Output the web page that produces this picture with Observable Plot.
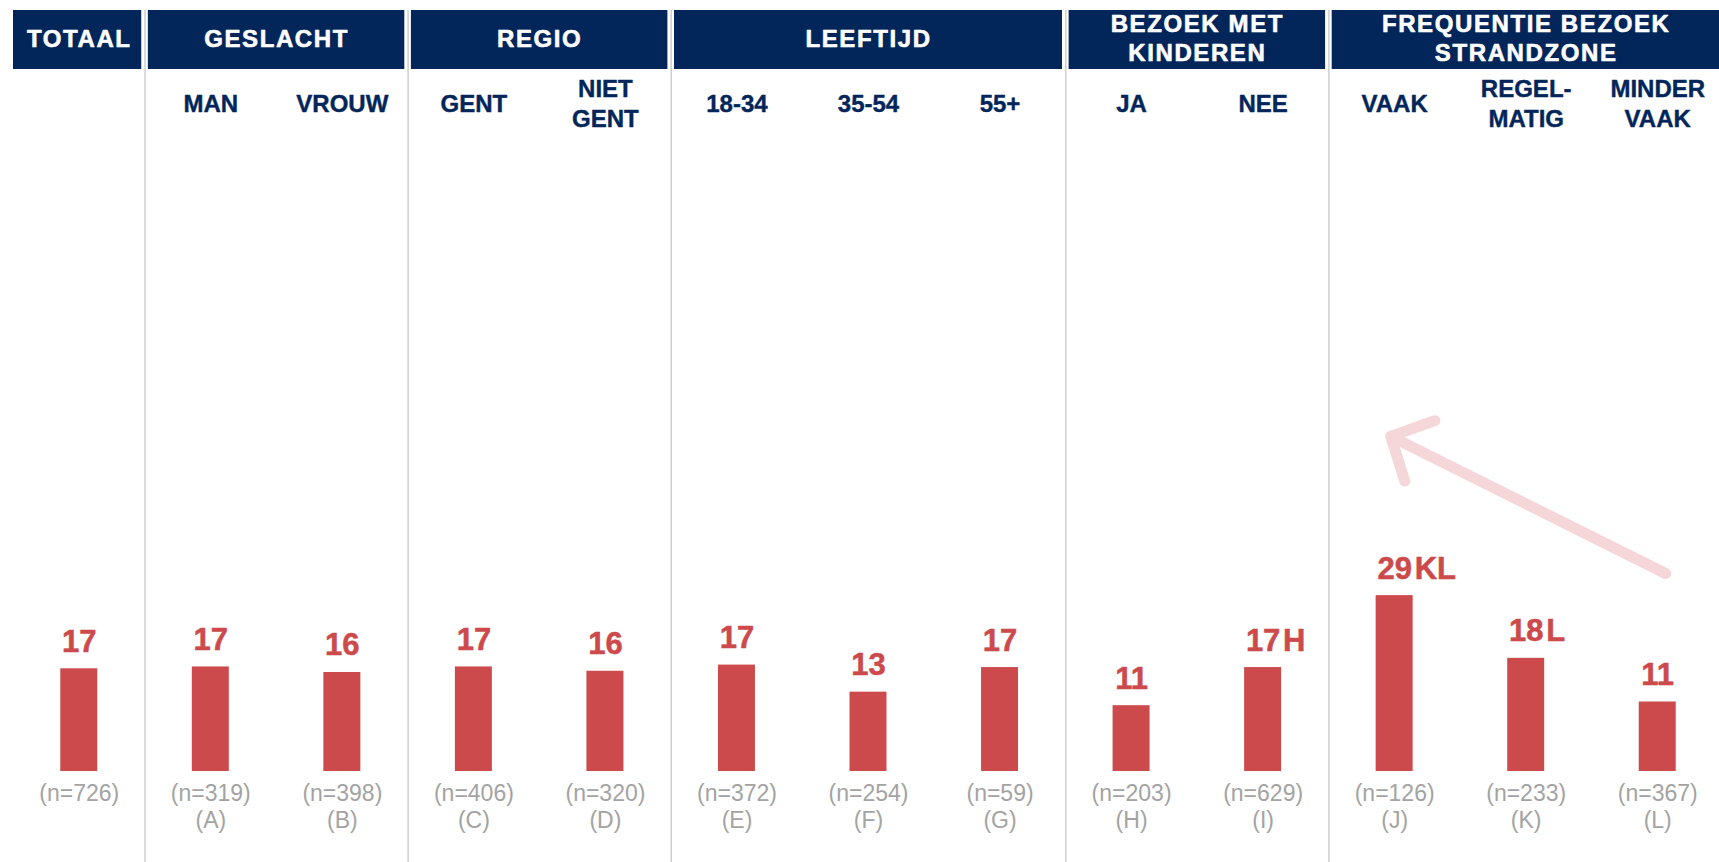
<!DOCTYPE html>
<html>
<head>
<meta charset="utf-8">
<script src="https://cdn.jsdelivr.net/npm/d3@7"></script>
<script src="https://cdn.jsdelivr.net/npm/@observablehq/plot@0.6"></script>
<style>
  html, body { margin: 0; padding: 0; background: #fff; overflow: hidden; }
  #chart svg { display: block; }
</style>
</head>
<body>
<div id="chart"></div>
<script>
// ---- data ----
const groupNames = ["TOTAAL", "GESLACHT", "REGIO", "LEEFTIJD", "BEZOEK MET\nKINDEREN", "FREQUENTIE BEZOEK\nSTRANDZONE"];
const groupFirst = [0, 1, 3, 5, 8, 10];
const groupLast = [0, 2, 4, 7, 9, 12];
const subgroups = ["", "MAN", "VROUW", "GENT", "NIET\nGENT", "18-34", "35-54", "55+", "JA", "NEE", "VAAK", "REGEL-\nMATIG", "MINDER\nVAAK"];
const values = [16.7, 17.0, 16.1, 17.0, 16.3, 17.3, 12.9, 16.9, 10.7, 16.9, 28.6, 18.4, 11.3];
const valueLabels = ["17", "17", "16", "17", "16", "17", "13", "17", "11", "17", "29", "18", "11"];
const sigLetters = ["", "", "", "", "", "", "", "", "", "H", "KL", "L", ""];
const sampleSizes = [726, 319, 398, 406, 320, 372, 254, 59, 203, 629, 126, 233, 367];
const columnLetters = ["", "A", "B", "C", "D", "E", "F", "G", "H", "I", "J", "K", "L"];
// decorative arrow (column position, value units)
const arrowX1 = [12.06], arrowY1 = [32.2], arrowX2 = [9.97], arrowY2 = [54.5];

// ---- derived tables ----
const cols = subgroups.map((s, i) => ({
  i, sub: s, value: values[i], label: valueLabels[i], sig: sigLetters[i],
  n: `(n=${sampleSizes[i]})`, letter: columnLetters[i] ? `(${columnLetters[i]})` : ""
}));
const groups = groupNames.map((g, k) => ({name: g, first: groupFirst[k], last: groupLast[k]}));
const seps = groups.slice(1).map(g => g.first - 0.5);

const NAVY = "#03265a";
const RED = "#cc4a4b";
const GREY = "#a3a3a3";
const SEP = "#cfcfcf";
const FONT = "'Liberation Sans', Arial, sans-serif";
const W = 1719;
const xScale = {type: "linear", domain: [-0.5, 12.5], range: [13, 1723], axis: null};

const header = Plot.plot({
  width: W, height: 69,
  marginTop: 10, marginBottom: 0, marginLeft: 0, marginRight: 0,
  style: {fontFamily: FONT, letterSpacing: "1.6px", background: "white", overflow: "visible"},
  x: xScale,
  marks: [
    Plot.ruleX(seps, {stroke: SEP, strokeWidth: 1.5}),
    Plot.rect(groups.slice(0, 1), {x1: d => d.first - 0.5, x2: d => d.last + 0.5, fill: NAVY, insetRight: 3.3}),
    Plot.rect(groups.slice(1), {x1: d => d.first - 0.5, x2: d => d.last + 0.5, fill: NAVY, insetLeft: 3.3, insetRight: 3.3}),
    Plot.text(groups, {x: d => (d.first + d.last) / 2, text: "name", frameAnchor: "middle", dy: -2.5,
      fill: "white", stroke: "white", strokeWidth: 0.6, fontSize: 24, fontWeight: "bold", lineHeight: 1.18})
  ]
});

const main = Plot.plot({
  width: W, height: 793,
  marginTop: 0, marginBottom: 0, marginLeft: 0, marginRight: 0,
  style: {fontFamily: FONT, background: "white", overflow: "visible"},
  x: xScale,
  y: {domain: [0, 100], range: [702, 87], axis: null},
  marks: [
    Plot.ruleX(seps, {stroke: SEP, strokeWidth: 1.5}),
    Plot.arrow({length: 1}, {x1: arrowX1, y1: arrowY1, x2: arrowX2, y2: arrowY2,
      stroke: "#f5d6d9", strokeWidth: 11, headLength: 6.4, headAngle: 92, strokeLinecap: "round"}),
    Plot.text(cols, {x: "i", text: "sub", frameAnchor: "top", dy: 33, lineAnchor: "middle",
      fill: NAVY, stroke: NAVY, strokeWidth: 0.4, fontSize: 24, fontWeight: "bold", lineHeight: 1.25}),
    Plot.rectY(cols, {x1: d => d.i - 0.1406, x2: d => d.i + 0.1406, y: "value", fill: RED}),
    Plot.text(cols, {x: "i", y: "value", text: "label", dy: -17, lineAnchor: "bottom",
      fill: RED, stroke: RED, strokeWidth: 0.5, fontSize: 31, fontWeight: "bold"}),
    Plot.text(cols.filter(d => d.sig), {x: "i", y: "value", text: "sig", dx: 20, dy: -17,
      textAnchor: "start", lineAnchor: "bottom", fill: RED, stroke: RED, strokeWidth: 0.5, fontSize: 31, fontWeight: "bold"}),
    Plot.text(cols, {x: "i", y: d => 0, text: "n", dy: 29, lineAnchor: "bottom", fill: GREY, fontSize: 23}),
    Plot.text(cols.filter(d => d.letter), {x: "i", y: d => 0, text: "letter", dy: 56, lineAnchor: "bottom", fill: GREY, fontSize: 23})
  ]
});

document.getElementById("chart").append(header, main);
</script>
</body>
</html>
